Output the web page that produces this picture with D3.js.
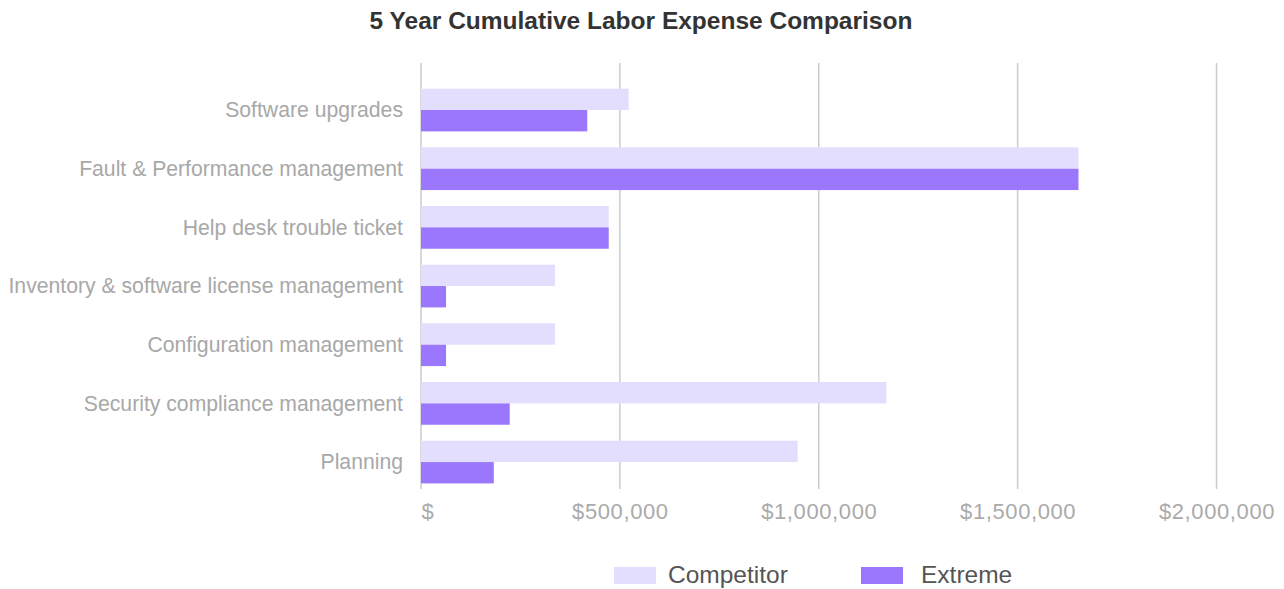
<!DOCTYPE html>
<html>
<head>
<meta charset="utf-8">
<script src="https://cdn.jsdelivr.net/npm/d3@7"></script>
<style>
  html, body { margin: 0; padding: 0; background: #fff; }
  svg { display: block; font-family: "Liberation Sans", Arial, sans-serif; }
</style>
</head>
<body>
<svg id="chart" width="1284" height="589"></svg>
<script>
const title = "5 Year Cumulative Labor Expense Comparison";
const categories = [
  "Software upgrades",
  "Fault & Performance management",
  "Help desk trouble ticket",
  "Inventory & software license management",
  "Configuration management",
  "Security compliance management",
  "Planning"
];
const seriesNames = ["Competitor", "Extreme"];
const competitorValues = [522000, 1653000, 472000, 337000, 337000, 1170000, 947000];
const extremeValues = [418000, 1653000, 472000, 63000, 63000, 223000, 183000];
const tickValues = [0, 500000, 1000000, 1500000, 2000000];
const tickLabels = ["$", "$500,000", "$1,000,000", "$1,500,000", "$2,000,000"];
const colors = ["#e4defe", "#9b77fe"];

const svg = d3.select("#chart");
const plotLeft = 421, plotRight = 1216.5, plotTop = 63, plotBottom = 489;

const x = d3.scaleLinear().domain([0, 2000000]).range([plotLeft, plotRight]);
const y = d3.scaleBand().domain(categories).range([80.7, 491.4]).paddingInner(0.272).paddingOuter(0.136);
const ySub = d3.scaleBand().domain(seriesNames).range([0, y.bandwidth()]);

// title
svg.append("text")
  .attr("x", 641).attr("y", 29)
  .attr("text-anchor", "middle")
  .attr("font-size", 24.5).attr("font-weight", "bold")
  .attr("fill", "#333")
  .text(title);

// gridlines
svg.append("g").selectAll("line").data(tickValues).join("line")
  .attr("x1", d => x(d)).attr("x2", d => x(d))
  .attr("y1", plotTop).attr("y2", plotBottom)
  .attr("stroke", "#cccccc").attr("stroke-width", 1.5);

// x tick labels via axis
const xAxis = d3.axisBottom(x).tickValues(tickValues).tickSize(0).tickPadding(0)
  .tickFormat((d, i) => tickLabels[i]);
const gx = svg.append("g").attr("transform", "translate(0, 519)").call(xAxis);
gx.select(".domain").remove();
gx.selectAll("text")
  .attr("y", 0).attr("dy", 0)
  .attr("font-size", 22).attr("fill", "#aaaaaa")
  .attr("letter-spacing", 0.6)
  .attr("font-family", "'Liberation Sans', Arial, sans-serif")
  .attr("text-anchor", (d, i) => i === 0 ? "start" : "middle");

// y labels via axis
const yAxis = d3.axisLeft(y).tickSize(0).tickPadding(0);
const gy = svg.append("g").attr("transform", "translate(403, 0)").call(yAxis);
gy.select(".domain").remove();
gy.selectAll("text")
  .attr("dy", "0.35em")
  .attr("font-size", 21.2).attr("fill", "#a8a8a8")
  .attr("font-family", "'Liberation Sans', Arial, sans-serif");

// bars
const data = categories.map((c, i) => ({ cat: c, vals: [competitorValues[i], extremeValues[i]] }));
const groups = svg.append("g").selectAll("g").data(data).join("g")
  .attr("transform", d => `translate(0, ${y(d.cat)})`);
groups.selectAll("rect").data(d => d.vals.map((v, j) => ({ v, s: seriesNames[j], j })))
  .join("rect")
  .attr("x", x(0))
  .attr("y", d => ySub(d.s))
  .attr("width", d => x(d.v) - x(0))
  .attr("height", ySub.bandwidth())
  .attr("fill", d => colors[d.j]);

// legend
const legendItems = [
  { name: seriesNames[0], sx: 614, tx: 668, color: colors[0] },
  { name: seriesNames[1], sx: 861, tx: 921, color: colors[1] }
];
const lg = svg.append("g").selectAll("g").data(legendItems).join("g");
lg.append("rect")
  .attr("x", d => d.sx).attr("y", 567)
  .attr("width", 42).attr("height", 17)
  .attr("fill", d => d.color);
lg.append("text")
  .attr("x", d => d.tx).attr("y", 583)
  .attr("font-size", 24.5).attr("fill", "#555")
  .text(d => d.name);
</script>
</body>
</html>
